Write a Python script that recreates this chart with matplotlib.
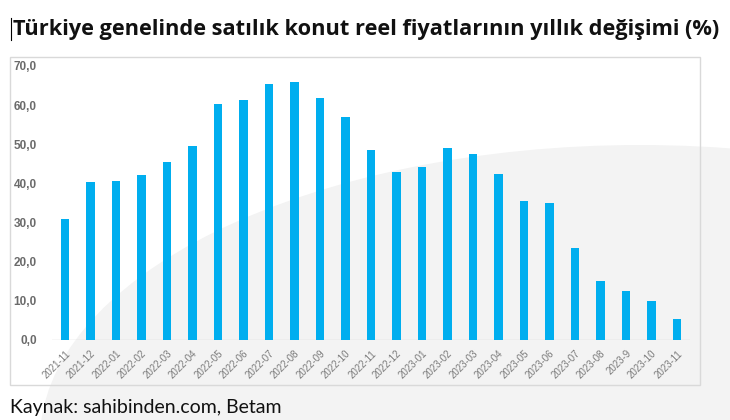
import matplotlib
matplotlib.use("Agg")
import matplotlib.pyplot as plt
from matplotlib.patches import Rectangle, Ellipse
from matplotlib.lines import Line2D

months = ["2021-11", "2021-12", "2022-01", "2022-02", "2022-03", "2022-04", "2022-05",
          "2022-06", "2022-07", "2022-08", "2022-09", "2022-10", "2022-11", "2022-12",
          "2023-01", "2023-02", "2023-03", "2023-04", "2023-05", "2023-06", "2023-07",
          "2023-08", "2023-9", "2023-10", "2023-11"]
values = [30.9, 40.4, 40.6, 42.2, 45.5, 49.6, 60.3, 61.3, 65.4, 65.9, 61.8, 57.0, 48.5,
          43.0, 44.3, 49.1, 47.4, 42.3, 35.5, 34.9, 23.6, 15.2, 12.6, 9.9, 5.4]
yticks = [0, 10, 20, 30, 40, 50, 60, 70]
ytick_labels = ["0,0", "10,0", "20,0", "30,0", "40,0", "50,0", "60,0", "70,0"]
title = "Türkiye genelinde satılık konut reel fiyatlarının yıllık değişimi (%)"
source = "Kaynak: sahibinden.com, Betam"

W, H = 730, 420
fig = plt.figure(figsize=(W / 100, H / 100), dpi=100)
fig.patch.set_facecolor("white")

def fx(x):
    return x / W

def fy(y):
    return 1 - y / H

# faint background swoosh
fig.add_artist(Ellipse((fx(640), fy(440)), 2 * 600 / W, 2 * 295 / H,
                       transform=fig.transFigure, facecolor="#f3f3f3",
                       edgecolor="none", zorder=0))

# chart frame
fig.add_artist(Rectangle((fx(10), fy(385)), fx(700) - fx(10), fy(57) - fy(385),
                         transform=fig.transFigure, facecolor="none",
                         edgecolor="#d9d9d9", linewidth=1.0, zorder=1))

# text cursor mark
fig.add_artist(Line2D([fx(11), fx(11)], [fy(18), fy(40)], transform=fig.transFigure,
                      color="black", linewidth=0.8))

ax = fig.add_axes([fx(52.25), fy(340), fx(689.75) - fx(52.25), fy(66) - fy(340)])
ax.set_facecolor("none")
x = list(range(len(months)))
ax.bar(x, values, width=0.32, color="#00AEEF", zorder=3)
ax.set_xlim(-0.5, len(months) - 0.5)
ax.set_ylim(0, 70)
for s in ax.spines.values():
    s.set_visible(False)
ax.axhline(0, color="#d9d9d9", linewidth=1.0, zorder=2)
ax.set_yticks(yticks)
ax.set_yticklabels(ytick_labels, fontsize=8.5, color="#6b6b6b", fontweight="bold",
                   family="Liberation Sans")
ax.set_xticks(x)
ax.set_xticklabels(months, rotation=45, ha="right", rotation_mode="anchor",
                   fontsize=7, color="#7a7a7a", family="Liberation Sans")
ax.tick_params(axis="both", length=0)
ax.tick_params(axis="y", pad=11)
ax.tick_params(axis="x", pad=6)

fig.text(fx(13), fy(29), title, fontsize=15.7, fontweight="bold", family="Open Sans",
         va="center", ha="left", color="#111111")
fig.text(fx(10), fy(408), source, fontsize=14, family="Lato", va="center",
         ha="left", color="#111111")

fig.savefig("out.png", dpi=100)
